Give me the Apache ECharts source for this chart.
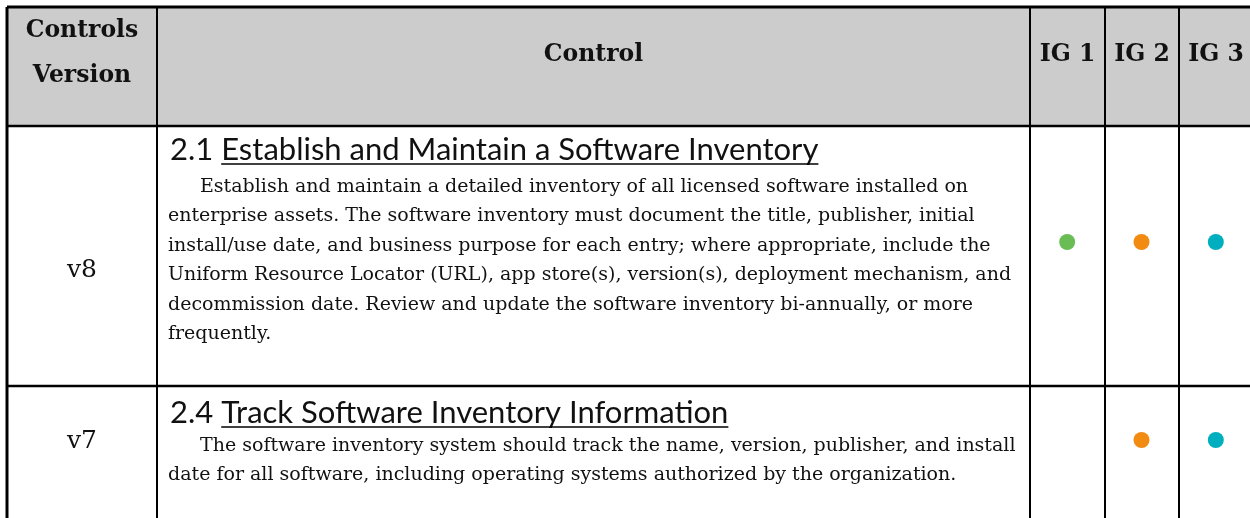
<!DOCTYPE html>
<html><head><meta charset="utf-8">
<script src="https://cdn.jsdelivr.net/npm/echarts@6/dist/echarts.min.js"></script>
<style>html,body{margin:0;padding:0;background:#fff}#c{width:1250px;height:518px}</style>
</head><body><div id="c"></div>
<script>
// ---------- data ----------
const headerLabels = ['Controls\nVersion', 'Control', 'IG 1', 'IG 2', 'IG 3'];
const versions = ['v8', 'v7'];
const controlIds = ['2.1', '2.4'];
const controlTitles = ['Establish and Maintain a Software Inventory', 'Track Software Inventory Information'];
const descriptions = [
  ['Establish and maintain a detailed inventory of all licensed software installed on',
   'enterprise assets. The software inventory must document the title, publisher, initial',
   'install/use date, and business purpose for each entry; where appropriate, include the',
   'Uniform Resource Locator (URL), app store(s), version(s), deployment mechanism, and',
   'decommission date. Review and update the software inventory bi-annually, or more',
   'frequently.'],
  ['The software inventory system should track the name, version, publisher, and install',
   'date for all software, including operating systems authorized by the organization.']
];
const igGroups = ['IG 1', 'IG 2', 'IG 3'];
const ig1 = [1, 0];
const ig2 = [1, 1];
const ig3 = [1, 1];
const igColors = ['#6abd55', '#f28b12', '#00afbf'];

// ---------- layout ----------
const colEdges = [7, 157, 1030, 1105, 1179, 1253];
const rowEdges = [7, 126, 386, 560];
const headerFont = 'bold 23.5px "DejaVu Serif"';
const titleFont = '31px Lato';
const bodyFont = '19px "DejaVu Serif"';
const versionFont = '25px "DejaVu Serif"';
const rowLayout = [
  {title: 24, body: 61, ver: 144},
  {title: 27, body: 60, ver: 55}
];
const lineStep = 29.5;

const mctx = document.createElement('canvas').getContext('2d');
function tw(t, f) { mctx.font = f; return mctx.measureText(t).width; }

const chart = echarts.init(document.getElementById('c'), null, {renderer: 'canvas'});

function renderRow(params, api) {
  const r = api.value(0);
  const ch = [];
  const P = (x, y) => api.coord([x, y]);
  const line = (x1, y1, x2, y2, w) => {
    const a = P(x1, y1), b = P(x2, y2);
    return {type: 'line', shape: {x1: a[0], y1: a[1], x2: b[0], y2: b[1]}, style: {stroke: '#000', lineWidth: w || 2}};
  };
  const text = (t, x, y, font, align) => {
    const p = P(x, y);
    return {type: 'text', style: {text: t, x: p[0], y: p[1], font: font, fill: '#111', textAlign: align || 'left', textVerticalAlign: 'middle'}};
  };
  const top = rowEdges[r], bot = rowEdges[r + 1];
  if (r === 0) {
    const a = P(colEdges[0], top), b = P(colEdges[colEdges.length - 1], bot);
    ch.push({type: 'rect', shape: {x: a[0], y: a[1], width: b[0] - a[0], height: b[1] - a[1]}, style: {fill: '#cccccc'}});
    const cx0 = (colEdges[0] + colEdges[1]) / 2;
    const parts = headerLabels[0].split('\n');
    ch.push(text(parts[0], cx0, 31, headerFont, 'center'));
    ch.push(text(parts[1], cx0, 76, headerFont, 'center'));
    for (let k = 1; k < headerLabels.length; k++) {
      ch.push(text(headerLabels[k], (colEdges[k] + colEdges[k + 1]) / 2, 55, headerFont, 'center'));
    }
  } else {
    const i = r - 1, L = rowLayout[i];
    ch.push(text(versions[i], (colEdges[0] + colEdges[1]) / 2, top + L.ver, versionFont, 'center'));
    const tx = colEdges[1] + 13, ty = top + L.title;
    const pre = controlIds[i] + ' ';
    ch.push(text(pre + controlTitles[i], tx, ty, titleFont));
    const u0 = tx + tw(pre, titleFont), u1 = tx + tw(pre + controlTitles[i], titleFont);
    ch.push(line(u0, ty + 14, u1, ty + 14, 1.5));
    descriptions[i].forEach((s, j) => {
      ch.push(text(s, colEdges[1] + (j === 0 ? 43 : 11), top + L.body + j * lineStep, bodyFont));
    });
  }
  // borders
  ch.push(line(colEdges[0], top, colEdges[colEdges.length - 1], top, r === 0 ? 3 : 2.5));
  for (let k = 0; k < colEdges.length - 1; k++) ch.push(line(colEdges[k], top, colEdges[k], bot, k === 0 ? 3 : 2));
  return {type: 'group', children: ch};
}

const dots = [];
versions.forEach((v, i) => {
  [ig1, ig2, ig3].forEach((arr, j) => {
    if (arr[i]) dots.push({value: [igGroups[j], v], itemStyle: {color: igColors[j], opacity: 1}});
  });
});

chart.setOption({
  animation: false,
  grid: [
    {left: 0, top: 0, right: 0, bottom: 0, outerBoundsMode: 'none', containLabel: false},
    {left: 1030, width: 223, top: 143, height: 396, outerBoundsMode: 'none', containLabel: false}
  ],
  xAxis: [
    {gridIndex: 0, type: 'value', min: 0, max: 1250, show: false},
    {gridIndex: 1, type: 'category', data: igGroups, show: false}
  ],
  yAxis: [
    {gridIndex: 0, type: 'value', min: 0, max: 518, inverse: true, show: false},
    {gridIndex: 1, type: 'category', data: versions, inverse: true, show: false}
  ],
  series: [
    {type: 'custom', xAxisIndex: 0, yAxisIndex: 0, data: [[0], [1], [2]], renderItem: renderRow, clip: false, silent: true, z: 1},
    {type: 'scatter', xAxisIndex: 1, yAxisIndex: 1, data: dots, symbolSize: 16, z: 5, silent: true, clip: false}
  ]
});
</script></body></html>
